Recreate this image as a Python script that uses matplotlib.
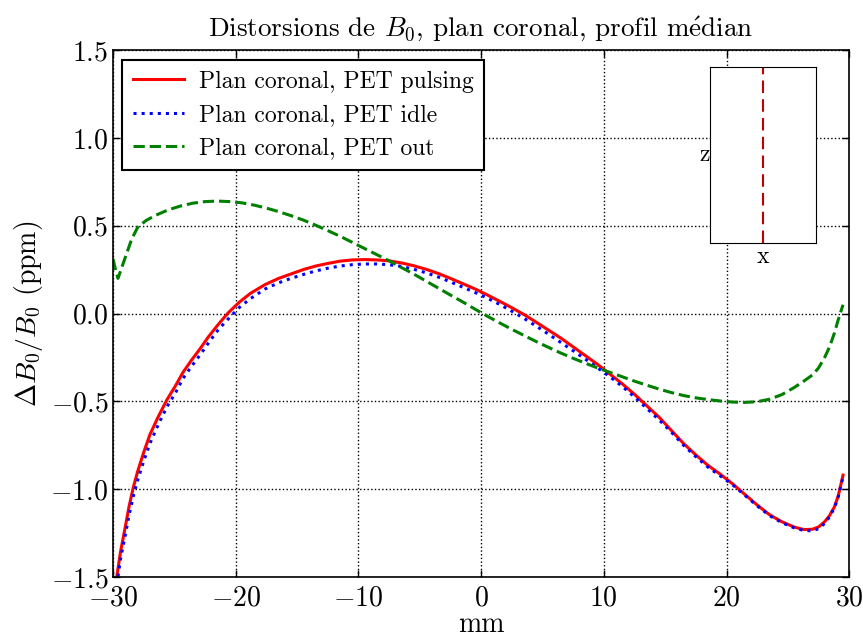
import matplotlib
matplotlib.use("Agg")
import matplotlib.pyplot as plt

plt.rcParams['font.family'] = ['serif']
plt.rcParams['font.serif'] = ['cmr10', 'DejaVu Serif']
plt.rcParams['mathtext.fontset'] = 'cm'
plt.rcParams['axes.formatter.use_mathtext'] = True
plt.rcParams['axes.unicode_minus'] = True

x_pulsing = [-29.9, -29.7, -29.4, -29.0, -28.7, -28.35, -28.0, -27.5, -27.0, -26.3, -25.6, -24.9,
             -24.3, -23.6, -22.9, -22.2, -21.4, -20.6, -19.7, -18.8, -17.6, -16.5, -15.5, -14.5,
             -13.5, -12.5, -11.5, -10.5, -9.5, -8.5, -7.5, -6.5, -5.5, -4.5, -3.5, -2.5, -1.5,
             -0.5, 0.5, 1.5, 2.5, 3.5, 4.5, 5.5, 6.5, 7.5, 8.5, 9.5, 10.5, 11.5, 12.5, 13.5,
             14.5, 15.5, 16.5, 17.5, 18.5, 19.5, 20.5, 21.5, 22.5, 23.5, 24.5, 25.5, 26.3,
             27.0, 27.5, 28.0, 28.4, 28.8, 29.1, 29.5]
y_pulsing = [-1.62, -1.50, -1.36, -1.213, -1.10, -0.99, -0.90, -0.79, -0.69, -0.585, -0.49, -0.41,
             -0.335, -0.265, -0.20, -0.13, -0.06, 0.005, 0.065, 0.115, 0.165, 0.20, 0.225, 0.25,
             0.27, 0.285, 0.298, 0.305, 0.307, 0.305, 0.30, 0.288, 0.272, 0.252, 0.228, 0.20, 0.17,
             0.14, 0.106, 0.07, 0.033, -0.006, -0.05, -0.095, -0.14, -0.19, -0.24, -0.29, -0.345, -0.40, -0.46, -0.525,
             -0.59, -0.665, -0.74, -0.805, -0.865, -0.915, -0.97, -1.03, -1.09, -1.145, -1.185, -1.215, -1.23,
             -1.228, -1.215, -1.185, -1.15, -1.10, -1.04, -0.92]

x_idle = x_pulsing
y_idle = [-1.68, -1.55, -1.40, -1.26, -1.15, -1.04, -0.95, -0.84, -0.74, -0.63, -0.53, -0.45,
          -0.37, -0.30, -0.235, -0.165, -0.09, -0.03, 0.035, 0.085, 0.14, 0.175, 0.20, 0.222,
          0.242, 0.258, 0.27, 0.278, 0.282, 0.282, 0.278, 0.268, 0.252, 0.232, 0.208, 0.18, 0.15,
          0.12, 0.088, 0.052, 0.013, -0.028, -0.072, -0.118, -0.165, -0.212, -0.26, -0.31, -0.36, -0.415, -0.475, -0.54,
          -0.605, -0.675, -0.75, -0.815, -0.875, -0.925, -0.975, -1.035, -1.095, -1.15, -1.19, -1.22, -1.235,
          -1.237, -1.225, -1.195, -1.158, -1.105, -1.045, -0.93]

x_out = [-30.0, -29.8, -29.6, -29.35, -29.0, -28.5, -28.0, -27.3, -26.5, -25.5, -24.5, -23.5,
         -22.5, -21.5, -20.5, -19.5, -18.5, -17.5, -16.5, -15.5, -14.5, -13.5, -12.5, -11.5,
         -10.5, -9.5, -8.5, -7.5, -6.5, -5.5, -4.5, -3.5, -2.5, -1.5, -0.5, 0.5, 1.5, 2.5,
         3.5, 4.5, 5.5, 6.5, 7.5, 8.5, 9.5, 10.5, 11.5, 12.5, 13.5, 14.5, 15.5, 16.5, 17.5,
         18.5, 19.5, 20.5, 21.5, 22.5, 23.5, 24.5, 25.5, 26.3, 27.0, 27.5, 28.0, 28.4, 28.8,
         29.1, 29.5]
y_out = [0.31, 0.25, 0.20, 0.25, 0.32, 0.42, 0.49, 0.53, 0.56, 0.59, 0.612, 0.628,
         0.637, 0.64, 0.637, 0.63, 0.617, 0.60, 0.58, 0.557, 0.532, 0.503, 0.472, 0.44,
         0.405, 0.37, 0.335, 0.30, 0.262, 0.225, 0.185, 0.145, 0.105, 0.066, 0.025, -0.015, -0.053, -0.09,
         -0.125, -0.16, -0.193, -0.225, -0.255, -0.283, -0.31, -0.335, -0.36, -0.385, -0.408, -0.43, -0.45, -0.467, -0.48,
         -0.49, -0.498, -0.504, -0.506, -0.502, -0.488, -0.462, -0.422, -0.385, -0.35, -0.31, -0.25, -0.19, -0.11,
         -0.037, 0.05]

labels = ['Plan coronal, PET pulsing', 'Plan coronal, PET idle', 'Plan coronal, PET out']
xticks = [-30, -20, -10, 0, 10, 20, 30]
yticks = [-1.5, -1.0, -0.5, 0.0, 0.5, 1.0, 1.5]

fig = plt.figure(figsize=(8.63, 6.41), dpi=100)
ax = fig.add_axes([0.131, 0.0998, 0.853, 0.8222])

ax.plot(x_pulsing, y_pulsing, color='red', lw=2.2, ls='-', label=labels[0])
ax.plot(x_idle, y_idle, color='blue', lw=2.2, ls=':', label=labels[1])
ax.plot(x_out, y_out, color='green', lw=2.2, ls='--', label=labels[2])

ax.set_xlim(-30, 30)
ax.set_ylim(-1.5, 1.5)
ax.set_xticks(xticks)
ax.set_yticks(yticks)
ax.yaxis.set_major_formatter(matplotlib.ticker.FuncFormatter(lambda v, p: r'$%.1f$' % v))
ax.tick_params(direction='in', top=True, right=True, labelsize=20, length=5, width=1)
ax.tick_params(axis='x', pad=6)
ax.grid(True, color='black', ls=':', lw=1)
for s in ax.spines.values():
    s.set_linewidth(1.2)

ax.set_title(r'Distorsions de $B_0$, plan coronal, profil m$\mathrm{\acute{e}}$dian', fontsize=19.5, pad=10)
ax.set_xlabel('mm', fontsize=20, labelpad=0)
ax.set_ylabel(r'$\Delta B_0/B_0$ (ppm)', fontsize=20, labelpad=4)

leg = ax.legend(loc='upper left', fontsize=17, fancybox=False, framealpha=1,
                edgecolor='black', handlelength=2.2, handletextpad=0.6, borderpad=0.45,
                labelspacing=0.48, borderaxespad=0.0, bbox_to_anchor=(0.012, 0.981))
leg.get_frame().set_linewidth(1.5)

ins = fig.add_axes([0.8227, 0.621, 0.1228, 0.2746])
ins.set_xlim(0, 1)
ins.set_ylim(0, 1)
ins.axvline(0.5, color='#c00000', ls='--', lw=1.5, dashes=(6, 3))
ins.set_xticks([])
ins.set_yticks([])
ins.set_xlabel('x', fontsize=17, labelpad=2)
ins.set_ylabel('z', fontsize=17, labelpad=4, rotation=0, va='center')

fig.savefig('out.png', dpi=100)
